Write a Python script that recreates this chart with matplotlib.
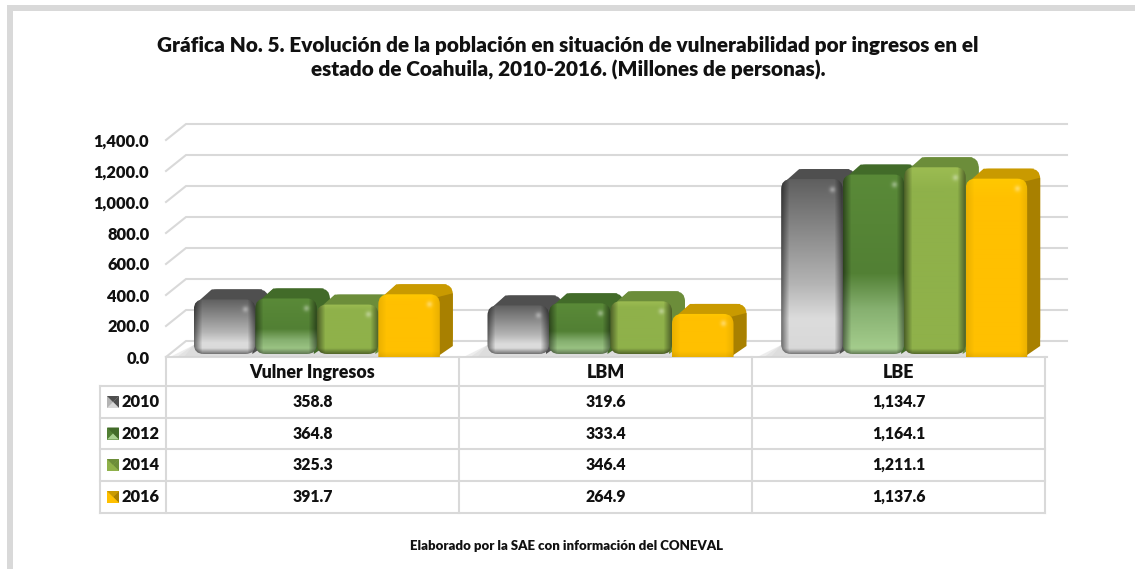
import matplotlib
matplotlib.use('Agg')
import matplotlib.pyplot as plt
import numpy as np
from matplotlib.colors import to_rgb
from matplotlib.patches import FancyBboxPatch, Polygon, Rectangle

plt.rcParams['font.family'] = ['Lato', 'DejaVu Sans']
plt.rcParams['font.weight'] = 'heavy'

# Datos
categorias = ['Vulner Ingresos', 'LBM', 'LBE']
anios = ['2010', '2012', '2014', '2016']
v2010 = [358.8, 319.6, 1134.7]
v2012 = [364.8, 333.4, 1164.1]
v2014 = [325.3, 346.4, 1211.1]
v2016 = [391.7, 264.9, 1137.6]
series = [v2010, v2012, v2014, v2016]
ticks_y = [0, 200, 400, 600, 800, 1000, 1200, 1400]

titulo = ('Gráfica No. 5. Evolución de la población en situación de vulnerabilidad por ingresos en el\n'
          'estado de Coahuila, 2010-2016. (Millones de personas).')
pie = 'Elaborado por la SAE con información del CONEVAL'

# Estilo de cada serie: paradas del degradado, tapa, lateral
estilos = [
    {'grad': [(0, '#5f5f5f'), (0.6, '#b4b4b4'), (0.8, '#dcdcdc'), (1, '#d8d8d8')], 'tapa': '#4f4f4f', 'lado': '#4f4f4f', 'borde': 0.5, 'base': 3},
    {'grad': [(0, '#5a8a38'), (0.55, '#528034'), (0.75, '#86b070'), (1, '#a8d090')], 'tapa': '#426b29', 'lado': '#426b29', 'borde': 0.55, 'base': 3},
    {'grad': [(0, '#9cbc52'), (0.12, '#8fb14a'), (1, '#8fb14a')], 'tapa': '#6c8d3a', 'lado': '#6c8d3a', 'borde': 0.55, 'base': 3},
    {'grad': [(0, '#ffc800'), (0.12, '#ffc000'), (1, '#ffc000')], 'tapa': '#c99a00', 'lado': '#a88000', 'borde': 0.92, 'base': -14},
]

W, H = 1135, 569
fig = plt.figure(figsize=(W / 100, H / 100), dpi=100, facecolor='white')

# Capa de fondo en pixeles: marco, titulo y tabla
fondo = fig.add_axes([0, 0, 1, 1], zorder=0)
fondo.set_xlim(0, W)
fondo.set_ylim(H, 0)
fondo.axis('off')
fondo.add_patch(Rectangle((7, 5), W - 7, 6, fc='#d9d9d9', ec='none'))
fondo.add_patch(Rectangle((7, 5), 6, H - 5, fc='#d9d9d9', ec='none'))
fondo.text(568, 58, titulo, ha='center', va='center', fontsize=14.93, linespacing=1.33, color='#111111')
fondo.text(567, 546, pie, ha='center', va='center', fontsize=9.55, color='#111111')

# Tabla de datos
col_x = [166, 459, 752, 1045]
fila_y = [386, 418, 449, 481, 513]
gris = '#d9d9d9'
lw_tabla = 1.5
for x in col_x:
    fondo.plot([x, x], [357, 513], color=gris, lw=lw_tabla)
fondo.plot([100, 100], [386, 513], color=gris, lw=lw_tabla)
for y in fila_y:
    fondo.plot([100, 1045], [y, y], color=gris, lw=lw_tabla)
for i, cat in enumerate(categorias):
    xc = (col_x[i] + col_x[i + 1]) / 2
    fondo.text(xc, 372, cat, ha='center', va='center', fontsize=12.8, color='#111111')
    for j, serie in enumerate(series):
        yc = (fila_y[j] + fila_y[j + 1]) / 2
        fondo.text(xc, yc, f'{serie[i]:,.1f}', ha='center', va='center', fontsize=11.3, color='#111111')

# Claves de la leyenda
for j, anio in enumerate(anios):
    yc = (fila_y[j] + fila_y[j + 1]) / 2
    fondo.text(122, yc, anio, ha='left', va='center', fontsize=11.8, color='#111111')
    x0, x1, y0, y1 = 107, 119, yc - 6, yc + 6
    cx, cy = (x0 + x1) / 2, (y0 + y1) / 2
    e = estilos[j]
    media = e['grad'][1][1]
    fondo.add_patch(Rectangle((x0, y0), x1 - x0, y1 - y0, fc=media, ec='none'))
    fondo.add_patch(Polygon([(x0, y0), (x1, y0), (cx, cy)], fc=e['tapa'], ec='none'))
    fondo.add_patch(Polygon([(x1, y0), (x1, y1), (cx, cy)], fc=e['lado'], ec='none'))
    fondo.add_patch(Polygon([(x0, y1), (x1, y1), (cx, cy)], fc=e['grad'][-1][1], ec='none'))

# Ejes del grafico: x de 166 a 1047, y de 357 a 140 px
ax = fig.add_axes([166 / W, 1 - 357 / H, 881 / W, 217 / H], zorder=1)
ax.patch.set_alpha(0)
ax.set_xlim(-0.5, 2.5)
ax.set_ylim(0, 1400)
for s in ax.spines.values():
    s.set_visible(False)
ax.set_xticks([])
ax.set_yticks(ticks_y)
ax.set_yticklabels([f'{t:,.1f}' for t in ticks_y], fontsize=11.8, color='#111111')
ax.tick_params(axis='y', length=0, pad=12)

px = 3 / 881        # 1 px en unidades x
py = 1400 / 217     # 1 px en unidades y
fondo_dx, fondo_dy = 20 * px, 16 * py

# Paredes y piso
for t in ticks_y:
    ax.plot([-0.5, -0.5 + fondo_dx, 2.5 + fondo_dx], [t, t + fondo_dy, t + fondo_dy],
            color=gris, lw=1.5, clip_on=False, zorder=1.5, solid_joinstyle='miter')
ax.plot([-0.5, 2.5], [0, 0], color=gris, lw=1.5, clip_on=False, zorder=1.5)


def imagen_barra(e, n=160, m=62, alto_px=60):
    # degradado vertical con bisel oscuro en los bordes
    stops = e['grad']
    pos = [s[0] for s in stops]
    cols = np.array([to_rgb(s[1]) for s in stops])
    t = np.linspace(0, 1, n)
    rgb = np.stack([np.interp(t, pos, cols[:, c]) for c in range(3)], axis=1)
    img = np.repeat(rgb[:, None, :], m, axis=1)
    xx = np.arange(m)
    borde_x = np.minimum(xx, m - 1 - xx)
    sombra = e['borde'] + (1 - e['borde']) * np.clip(borde_x / 8, 0, 1)
    img = img * sombra[None, :, None]
    yy = np.arange(n) * alto_px / n
    sombra_b = e['borde'] + (1 - e['borde']) * np.clip((alto_px - yy) / 6, 0, 1)
    img = img * sombra_b[:, None, None]
    # punto de brillo arriba a la derecha
    gx, gy = np.meshgrid(np.arange(m), yy)
    brillo = np.exp(-(((gx - m + 11) / 3) ** 2 + ((gy - 10) / 3) ** 2))[..., None]
    img = img + (1 - img) * 0.35 * brillo
    return np.clip(img, 0, 1)


ancho = 61.5 * px
dx, dy = 13 * px, 10 * py
radio = 10

for i, cat in enumerate(categorias):
    for j, serie in enumerate(series):
        e = estilos[j]
        x0 = i + (j - 1.5) * ancho - ancho / 2 + 4 * px
        x1 = x0 + ancho
        top = serie[i] + 2 * py
        base = e['base'] * py
        base_atras = max(base, 0)
        z = 3 + i * 10 + j
        asp = py / px

        # sombra en el piso, solo a la izquierda de cada grupo
        if j == 0:
            for k, ext in enumerate([24, 17, 10]):
                ax.add_patch(Polygon([(x0 - ext * px, 0), (x0, 12 * py), (x0 + 4 * ancho, 12 * py), (x0 + 4 * ancho, 0)],
                                     fc='#d4d4d4', alpha=0.4, ec='none', clip_on=False, zorder=2))

        # cara trasera redondeada, tapa y lateral
        atras = FancyBboxPatch((x0 + dx, base_atras + dy), ancho, top - base_atras,
                               boxstyle=f'round,pad=0,rounding_size={radio * px}',
                               mutation_aspect=asp, fc=e['tapa'], ec='none', zorder=z, clip_on=False)
        ax.add_patch(atras)
        ax.add_patch(Polygon([(x0 + 1 * px, top - 5 * py), (x0 + dx + 5 * px, top + dy), (x1 + dx - 6 * px, top + dy), (x1, top)],
                             fc=e['tapa'], ec='none', zorder=z, clip_on=False))
        ax.add_patch(Polygon([(x1 - 3 * px, base_atras), (x1 - 3 * px, top - 3 * py), (x1 + dx, top + dy - 9 * py), (x1 + dx, base_atras + dy + 1 * py)],
                             fc=e['lado'], ec='none', zorder=z, clip_on=False))
        # cara frontal con degradado recortado
        frente = FancyBboxPatch((x0, base), ancho, top - base,
                                boxstyle=f'round,pad=0,rounding_size={radio * px}',
                                mutation_aspect=asp, fc='none', ec='none', zorder=z)
        ax.add_patch(frente)
        alto = (top - base_atras) / py
        im = ax.imshow(imagen_barra(e, alto_px=alto), extent=(x0, x1, base_atras, top),
                       aspect='auto', interpolation='bilinear', zorder=z + 0.5)
        im.set_clip_path(frente)

ax.set_xlim(-0.5, 2.5)
ax.set_ylim(0, 1400)

fig.savefig('out.png', dpi=100)
